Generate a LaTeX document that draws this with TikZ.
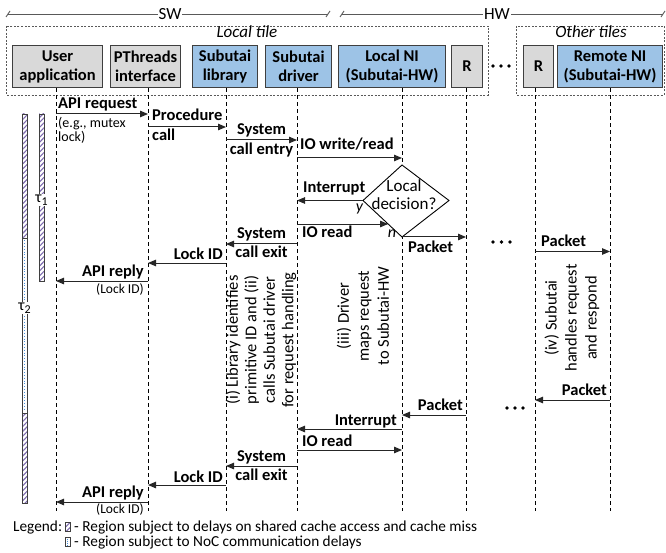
\documentclass[tikz,border=0pt]{standalone}
\usepackage{fontspec}
\setmainfont{Carlito}
\usetikzlibrary{arrows.meta,calc,patterns.meta}
\definecolor{boxgray}{HTML}{D9D9D9}
\definecolor{boxblue}{HTML}{9DC3E6}
\definecolor{edgec}{HTML}{3F3F3F}
\definecolor{hatchc}{HTML}{7D6AAE}
\definecolor{dotc}{HTML}{4A90D9}
\definecolor{linec}{HTML}{595959}
\begin{document}
\begin{tikzpicture}[x=1pt,y=-1pt,
 comp/.style={draw=edgec, line width=1.1pt, anchor=north west, minimum height=42pt, inner sep=0pt, align=center, font=\fontsize{16.5}{19}\selectfont\bfseries},
 compgray/.style={comp, fill=boxgray},
 compblue/.style={comp, fill=boxblue},
 tile/.style={draw=linec, dash pattern=on 2pt off 1.5pt, line width=0.8pt},
 life/.style={draw=black, line width=0.9pt, dash pattern=on 4pt off 3pt},
 msg/.style={draw=black!85, line width=1pt, -{Triangle[length=8pt,width=6.5pt]}},
 lbl/.style={inner sep=0pt, font=\fontsize{16.5}{19}\selectfont\bfseries},
 sub/.style={inner sep=0pt, font=\fontsize{14}{16}\selectfont},
 subs/.style={inner sep=0pt, font=\fontsize{13.5}{16}\selectfont},
 note/.style={inner sep=0pt, align=center, rotate=90},
 ital/.style={inner sep=0pt, font=\fontsize{17}{19}\selectfont\itshape},
 hatchbar/.style={draw=edgec, line width=0.7pt, pattern={Lines[angle=45,distance=3.5pt,line width=1.1pt]}, pattern color=hatchc},
 dotbar/.style={draw=edgec, line width=0.7pt, fill=white},
 dotline/.style={draw=dotc, line width=1pt, dash pattern=on 1pt off 1.8pt},
 legtxt/.style={inner sep=0pt, font=\fontsize{15.3}{17}\selectfont},
 span/.style={draw=linec, line width=0.9pt},
 dotmark/.style={fill=black}
]
\useasboundingbox (0,0) rectangle (666,553);

% SW / HW spans
\coordinate (swL) at (8,14); \coordinate (swR) at (328,14);
\coordinate (hwL) at (342,14); \coordinate (hwR) at (663,14);
\draw[span] (swL) -- (swR);
\draw[span] (hwL) -- (hwR);
\draw[span] ($(swL)+(-2,3)$) -- ($(swL)+(2,-3)$);
\draw[span] ($(swR)+(-2,3)$) -- ($(swR)+(2,-3)$);
\draw[span] ($(hwL)+(-2,3)$) -- ($(hwL)+(2,-3)$);
\draw[span] ($(hwR)+(-2,3)$) -- ($(hwR)+(2,-3)$);
\node[fill=white, inner sep=1pt, font=\fontsize{17}{19}\selectfont] (sw) at (170,14) {SW};
\node[fill=white, inner sep=1pt, font=\fontsize{17}{19}\selectfont] (hw) at (497,14) {HW};

% tiles
\draw[tile] (6,26) rectangle (488,95);
\draw[tile] (516,26) rectangle (664,95);
\node[ital, anchor=base] (loctile) at (247,38) {Local tile};
\node[ital, anchor=base] (othtile) at (591,38) {Other tiles};

% components
\node[compgray, minimum width=90pt] (ua) at (12,45) {User\\application};
\node[compgray, minimum width=70pt] (pt) at (110,45) {PThreads\\interface};
\node[compblue, minimum width=65pt] (lib) at (192,45) {Subutai\\library};
\node[compblue, minimum width=66pt] (drv) at (265,45) {Subutai\\driver};
\node[compblue, minimum width=107pt] (ni) at (338,45) {Local NI\\(Subutai-HW)};
\node[compgray, minimum width=31pt] (r1) at (451,45) {R};
\node[compgray, minimum width=30pt] (r2) at (523,45) {R};
\node[compblue, minimum width=105pt] (rni) at (557,45) {Remote NI\\(Subutai-HW)};
\foreach \xx in {493,501,509} \fill[dotmark] (\xx,66) circle (1.8);

% lifeline x positions
\coordinate (xU) at (56,0);
\coordinate (xP) at (148,0);
\coordinate (xL) at (226,0);
\coordinate (xD) at (297,0);
\coordinate (xN) at (402,0);
\coordinate (xR) at (466,0);
\coordinate (xR2) at (535,0);
\coordinate (xM) at (610,0);

\draw[life] (ua.south -| xU) -- ($(xU)+(0,511)$);
\draw[life] (pt.south -| xP) -- ($(xP)+(0,511)$);
\draw[life] (lib.south -| xL) -- ($(xL)+(0,511)$);
\draw[life] (drv.south -| xD) -- ($(xD)+(0,511)$);
\draw[life] (ni.south -| xN) -- ($(xN)+(0,511)$);
\draw[life] (r1.south -| xR) -- ($(xR)+(0,511)$);
\draw[life] (r2.south -| xR2) -- ($(xR2)+(0,511)$);
\draw[life] (rni.south -| xM) -- ($(xM)+(0,511)$);

% ---- request phase ----
\draw[msg] ($(xU)+(0,114)$) -- ($(xP)+(0,114)$);
\node[lbl, anchor=base west] (m1) at (58,108.5) {API request};
\node[sub, anchor=base west] (m1a) at (58,127.5) {(e.g., mutex};
\node[sub, anchor=base west] (m1b) at (58,141.5) {lock)};

\draw[msg] ($(xP)+(0,127)$) -- ($(xL)+(0,127)$);
\node[lbl, anchor=base west] (m2) at (152,121) {Procedure};
\node[lbl, anchor=base west] (m2b) at (152,141) {call};

\draw[msg] ($(xL)+(0,140)$) -- ($(xD)+(0,140)$);
\node[lbl, anchor=base] (m3) at (261.5,135) {System};
\node[lbl, anchor=base] (m3b) at (261.5,155) {call entry};

\draw[msg] ($(xD)+(0,158)$) -- ($(xN)+(0,158)$);
\node[lbl, anchor=base west] (m4) at (300,150) {IO write/read};

% decision diamond
\coordinate (dT) at (402,165);
\coordinate (dR) at (449,200.5);
\coordinate (dB) at (402,237);
\coordinate (dL) at (363,200.5);
\draw[draw=black, line width=0.9pt, fill=white] (dT) -- (dR) -- (dB) -- (dL) -- cycle;
\node[inner sep=0pt, align=center, font=\fontsize{17}{18.3}\selectfont] (dec) at (404,195) {Local\\decision?};

\draw[msg] (dL) -- (dL -| xD);
\node[lbl, anchor=base west] (m5) at (303,192.7) {Interrupt};
\node[inner sep=0pt, font=\fontsize{16}{18}\selectfont\itshape, anchor=base] (yy) at (359.5,212) {y};

\coordinate (dIO) at ($(dL)!0.644!(dB)$);
\draw[msg] (dIO -| xD) -- (dIO);
\node[lbl, anchor=base west] (m6) at (302,237) {IO read};

\draw[msg] ($(xD)+(0,244)$) -- ($(xL)+(0,244)$);
\node[lbl, anchor=base] (m7) at (261.5,238.5) {System};
\node[lbl, anchor=base] (m7b) at (261.5,258) {call exit};

\draw[msg] (dB) -- (dB -| xR);
\node[lbl, anchor=base west] (m8) at (408,253) {Packet};
\node[inner sep=0pt, font=\fontsize{16}{18}\selectfont\itshape, anchor=base] (nn) at (392,237) {n};

\draw[msg] ($(xL)+(0,263)$) -- ($(xP)+(0,263)$);
\node[lbl, anchor=base east] (m9) at (223,259) {Lock ID};

\draw[msg] ($(xP)+(0,281)$) -- ($(xU)+(0,281)$);
\node[lbl, anchor=base east] (m10) at (144,276.5) {API reply};
\node[subs, anchor=base east] (m10b) at (144,293) {(Lock ID)};

\foreach \xx in {493,501.5,510} \fill[dotmark] (\xx,242) circle (1.8);

\draw[msg] ($(xR2)+(0,251.5)$) -- ($(xM)+(0,251.5)$);
\node[lbl, anchor=base west] (m11) at (541,246.5) {Packet};

% rotated notes
\node[note, font=\fontsize{16.5}{18.5}\selectfont] (n1) at (261,340) {(i) Library identifies\\primitive ID and (ii)\\calls Subutai driver\\for request handling};
\node[note, font=\fontsize{16.5}{20}\selectfont] (n2) at (363,316) {(iii) Driver\\maps request\\to Subutai-HW};
\node[note, font=\fontsize{16.5}{20}\selectfont] (n3) at (572,318) {(iv) Subutai\\handles request\\and respond};

% ---- response phase ----
\draw[msg] ($(xM)+(0,400)$) -- ($(xR2)+(0,400)$);
\node[lbl, anchor=base east] (m12) at (607,395) {Packet};

\foreach \xx in {507,515,523} \fill[dotmark] (\xx,408) circle (1.8);

\draw[msg] ($(xR)+(0,415)$) -- ($(xN)+(0,415)$);
\node[lbl, anchor=base east] (m13) at (463,410.5) {Packet};

\draw[msg] ($(xN)+(0,429)$) -- ($(xD)+(0,429)$);
\node[lbl, anchor=base east] (m14) at (397,425) {Interrupt};

\draw[msg] ($(xD)+(0,450)$) -- ($(xN)+(0,450)$);
\node[lbl, anchor=base west] (m15) at (302,446.5) {IO read};

\draw[msg] ($(xD)+(0,466)$) -- ($(xL)+(0,466)$);
\node[lbl, anchor=base] (m16) at (261.5,461.5) {System};
\node[lbl, anchor=base] (m16b) at (261.5,480.5) {call exit};

\draw[msg] ($(xL)+(0,485)$) -- ($(xP)+(0,485)$);
\node[lbl, anchor=base east] (m17) at (223,482.5) {Lock ID};

\draw[msg] ($(xP)+(0,502)$) -- ($(xU)+(0,502)$);
\node[lbl, anchor=base east] (m18) at (144,497) {API reply};
\node[subs, anchor=base east] (m18b) at (144,513) {(Lock ID)};

% ---- timing bars ----
\path[hatchbar] (22,114) rectangle (27,238);
\path[dotbar] (22,238) rectangle (27,413);
\draw[dotline] (24.5,240.5) -- (24.5,411);
\path[hatchbar] (22,413) rectangle (27,503);
\node[fill=white, inner sep=1pt, font=\fontsize{16}{18}\selectfont] (tau2) at (24.5,308) {τ\raisebox{-0.4ex}{\fontsize{12}{12}\selectfont 2}};

\path[hatchbar] (39,114) rectangle (44,281);
\node[fill=white, inner sep=1pt, font=\fontsize{16}{18}\selectfont] (tau1) at (41.5,200) {τ\raisebox{-0.4ex}{\fontsize{12}{12}\selectfont 1}};

% ---- legend ----
\node[legtxt, anchor=base west] (leg) at (13,531) {Legend:};
\path[hatchbar, line width=0.5pt] (65.5,522.5) rectangle (70,531.5);
\node[legtxt, anchor=base west] (leg1) at (74,531) {- Region subject to delays on shared cache access and cache miss};
\path[dotbar, line width=0.5pt] (65.5,537.5) rectangle (70,546.5);
\draw[dotline, line width=0.7pt, dash pattern=on 0.7pt off 1.4pt] (67.75,538.5) -- (67.75,545.5);
\node[legtxt, anchor=base west] (leg2) at (74,546) {- Region subject to NoC communication delays};
\end{tikzpicture}
\end{document}
